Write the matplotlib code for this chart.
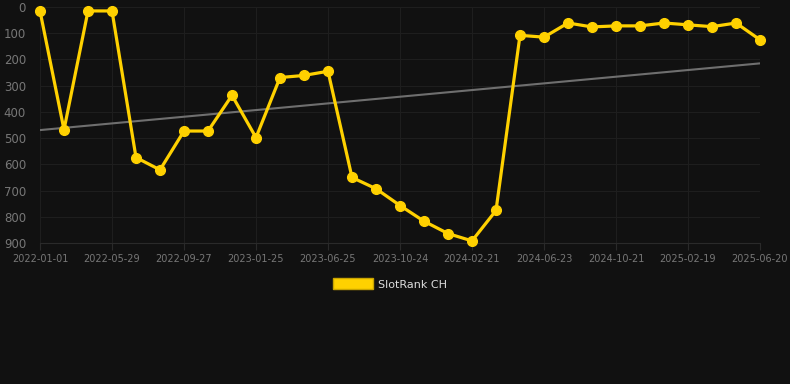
import numpy as np
import matplotlib
matplotlib.use("Agg")
import matplotlib.pyplot as plt
from matplotlib.patches import Patch

# rank per sample (lower is better), one point every ~40 days
ranks = [15, 468, 15, 15, 574, 621, 473, 473, 337, 498,
         269, 261, 245, 650, 693, 757, 817, 864, 892, 776,
         108, 115, 61, 76, 72, 72, 61, 68, 75, 61, 125]
tick_labels = ["2022-01-01", "2022-05-29", "2022-09-27", "2023-01-25",
               "2023-06-25", "2023-10-24", "2024-02-21", "2024-06-23",
               "2024-10-21", "2025-02-19", "2025-06-20"]
y_ticks = [0, 100, 200, 300, 400, 500, 600, 700, 800, 900]
series_name = "SlotRank CH"

bg = "#111111"
gold = "#FFD100"

x = np.arange(len(ranks))
trend = np.polyval(np.polyfit(x, ranks, 1), x)

fig = plt.figure(figsize=(7.9, 3.84), dpi=100, facecolor=bg)
ax = fig.add_axes([40 / 790, 141 / 384, 720 / 790, 236 / 384], facecolor=bg)

ax.plot(x, trend, color="#6f6f6f", lw=1.5, zorder=2)
ax.plot(x, ranks, color=gold, lw=2.3, marker="o", ms=7, zorder=3, clip_on=False)

ax.set_xlim(0, len(ranks) - 1)
ax.set_ylim(900, 0)
ax.set_xticks(x[::3])
ax.set_xticklabels(tick_labels)
ax.set_yticks(y_ticks)
ax.grid(True, color="#1e1e1e", lw=0.8)
for s in ax.spines.values():
    s.set_visible(False)
ax.spines["bottom"].set_visible(True)
ax.spines["bottom"].set_color("#2a2a2a")
ax.tick_params(axis="x", colors="#2a2a2a", labelcolor="#777777", labelsize=7,
               length=5, width=0.8, pad=3)
ax.tick_params(axis="y", labelcolor="#777777", labelsize=8.5, length=0, pad=10)

fig.legend(handles=[Patch(facecolor=gold, edgecolor="#c9a400", label=series_name)],
           loc="center", bbox_to_anchor=(0.5 - 5 / 790, 1 - 284 / 384), frameon=False,
           labelcolor="#dddddd", fontsize=8, handlelength=3.6, handleheight=1.1,
           handletextpad=0.5)

fig.savefig("out.png", dpi=100, facecolor=bg)
